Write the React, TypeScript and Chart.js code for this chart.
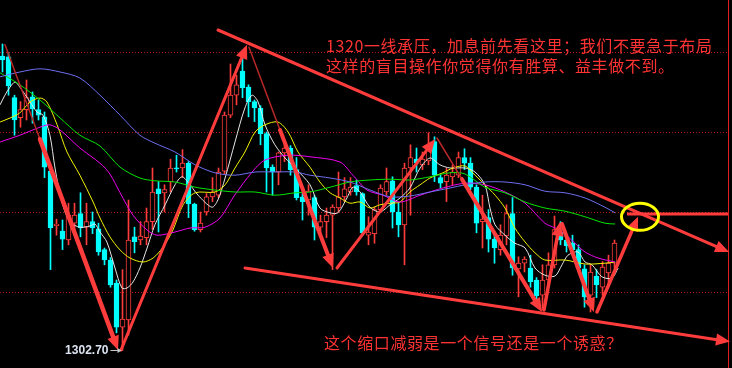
import React, { useEffect, useRef } from "react";
import { Chart, registerables } from "chart.js";
Chart.register(...registerables);

// ---- candle data (one per bar, left to right) ----
const opens = [
  1339.5, 1339.4, 1334.3, 1331.8, 1332.8, 1334.4, 1332.8, 1331.9, 1325.1, 1318.3,
  1317.6, 1316.5, 1318.6, 1319.8, 1318.1, 1318.8, 1317.9, 1315.3, 1314.0, 1311.1,
  1305.6, 1306.5, 1316.9, 1316.5, 1316.8, 1318.8, 1322.9, 1322.4, 1323.8, 1325.5,
  1325.5, 1326.1, 1321.0, 1317.8, 1320.0, 1321.9, 1322.1, 1325.1, 1332.1, 1334.6,
  1337.6, 1335.6, 1333.8, 1333.0, 1329.8, 1325.6, 1325.0, 1327.4, 1328.0, 1325.3,
  1321.9, 1321.5, 1321.8, 1318.1, 1318.8, 1319.6, 1320.5, 1321.9, 1322.5, 1323.3,
  1322.3, 1317.1, 1317.3, 1320.3, 1322.5, 1323.9, 1320.0, 1318.4, 1325.5, 1326.6,
  1325.9, 1326.4, 1328.8, 1324.3, 1323.8, 1324.4, 1324.6, 1326.8, 1326.1, 1323.1,
  1318.8, 1319.3, 1316.6, 1315.3, 1317.0, 1319.8, 1312.9, 1313.6, 1313.0, 1311.5,
  1309.6, 1311.5, 1313.4, 1317.5, 1316.5, 1316.1, 1315.3, 1312.9, 1309.6, 1312.0,
  1310.6, 1312.4, 1313.6,
];
const closes = [
  1339.0, 1335.8, 1331.5, 1332.8, 1334.3, 1332.9, 1332.1, 1325.6, 1318.0, 1318.5,
  1316.6, 1319.6, 1319.6, 1318.0, 1318.8, 1318.0, 1315.0, 1314.0, 1310.9, 1305.6,
  1306.6, 1316.5, 1316.3, 1317.0, 1318.8, 1322.5, 1322.3, 1322.8, 1325.5, 1325.4,
  1326.1, 1321.0, 1317.8, 1318.6, 1321.9, 1322.5, 1325.0, 1332.1, 1334.6, 1335.9,
  1335.5, 1333.8, 1333.0, 1329.8, 1325.5, 1325.0, 1327.4, 1328.0, 1325.3, 1321.8,
  1321.3, 1322.6, 1318.1, 1318.8, 1319.6, 1320.6, 1321.9, 1322.9, 1323.1, 1322.5,
  1317.4, 1317.5, 1320.3, 1323.0, 1323.8, 1320.0, 1318.4, 1325.5, 1326.8, 1326.1,
  1326.6, 1328.1, 1324.6, 1323.6, 1324.6, 1325.0, 1326.8, 1326.1, 1323.1, 1318.6,
  1319.1, 1316.6, 1315.5, 1317.1, 1319.8, 1313.0, 1313.6, 1314.1, 1311.3, 1309.5,
  1311.5, 1313.4, 1317.8, 1316.5, 1315.8, 1315.3, 1313.0, 1309.4, 1312.5, 1310.9,
  1313.1, 1313.6, 1316.1,
];
const highs = [
  1341.0, 1339.9, 1334.6, 1333.8, 1336.5, 1335.0, 1334.0, 1332.5, 1325.5, 1319.1,
  1319.0, 1321.1, 1321.1, 1322.4, 1321.1, 1320.0, 1318.6, 1315.5, 1314.3, 1311.5,
  1312.8, 1321.5, 1318.1, 1318.8, 1320.5, 1325.5, 1323.8, 1323.4, 1326.6, 1327.1,
  1327.8, 1326.3, 1321.1, 1320.0, 1322.3, 1324.3, 1325.5, 1332.5, 1338.5, 1337.1,
  1339.3, 1335.9, 1334.0, 1333.3, 1330.0, 1325.9, 1327.5, 1328.8, 1328.3, 1326.8,
  1322.4, 1323.4, 1322.1, 1319.6, 1320.5, 1320.9, 1325.0, 1324.3, 1324.3, 1324.0,
  1322.4, 1319.4, 1320.6, 1323.4, 1325.5, 1324.4, 1321.1, 1326.1, 1328.4, 1328.0,
  1327.5, 1329.9, 1329.4, 1324.6, 1325.5, 1325.9, 1327.5, 1327.9, 1326.8, 1323.4,
  1322.1, 1320.3, 1317.5, 1318.4, 1320.9, 1321.8, 1314.4, 1314.4, 1314.6, 1311.8,
  1313.4, 1314.9, 1319.5, 1318.8, 1317.1, 1317.1, 1315.9, 1313.4, 1313.4, 1312.8,
  1313.8, 1314.6, 1316.5,
];
const lows = [
  1337.5, 1334.6, 1329.6, 1330.6, 1331.5, 1331.1, 1331.5, 1324.3, 1312.8, 1317.1,
  1315.3, 1315.9, 1317.1, 1316.9, 1315.9, 1317.3, 1314.6, 1313.4, 1310.6, 1304.9,
  1302.7, 1304.6, 1314.9, 1315.9, 1315.9, 1317.8, 1317.5, 1320.0, 1322.5, 1325.0,
  1324.3, 1319.3, 1317.6, 1317.5, 1319.6, 1321.3, 1321.8, 1324.8, 1331.8, 1333.4,
  1334.3, 1331.9, 1331.3, 1328.4, 1322.5, 1322.1, 1323.4, 1326.3, 1324.6, 1321.5,
  1319.0, 1319.6, 1316.5, 1317.1, 1316.8, 1312.8, 1320.0, 1321.3, 1322.1, 1322.1,
  1317.1, 1315.9, 1316.1, 1320.0, 1322.1, 1318.0, 1316.9, 1313.4, 1319.6, 1325.0,
  1325.3, 1325.9, 1323.8, 1323.0, 1321.3, 1323.4, 1324.3, 1325.3, 1322.8, 1317.4,
  1315.5, 1315.0, 1313.6, 1314.6, 1315.9, 1312.1, 1309.4, 1312.5, 1310.6, 1309.0,
  1307.8, 1310.9, 1313.0, 1315.9, 1315.0, 1314.6, 1312.5, 1308.1, 1307.5, 1309.3,
  1309.6, 1310.9, 1313.0,
];

// ---- moving-average curves: [bar position, price] ----
const maWhite: [number, number][] = [
  [-0.4, 1333.4], [0.4, 1334.6], [1.25, 1335.6], [2.1, 1336.25], [2.9, 1335.6], [4.6, 1333.75],
  [5.75, 1332.5], [6.75, 1332.1], [7.9, 1329.6], [8.75, 1325.5], [9.9, 1321.25], [11.25, 1318.75],
  [12.9, 1318.1], [14.6, 1318.25], [15.4, 1318.5], [16.25, 1317.5], [17.4, 1316.25], [18.75, 1313.0],
  [19.9, 1310.5], [20.75, 1310.5], [21.75, 1311.25], [22.9, 1313.0], [24.1, 1315.5], [25.4, 1318.4],
  [27.1, 1320.9], [28.75, 1323.4], [29.9, 1324.4], [30.9, 1323.75], [32.6, 1322.1], [34.9, 1320.6],
  [35.9, 1321.5], [37.1, 1324.25], [38.75, 1328.75], [40.4, 1333.0], [41.6, 1334.6], [42.6, 1333.75],
  [43.75, 1330.9], [45.4, 1328.4], [47.1, 1326.75], [48.75, 1325.5], [51.25, 1323.4], [52.9, 1320.5],
  [54.6, 1319.9], [55.9, 1319.9], [57.4, 1321.75], [58.4, 1323.1], [59.6, 1322.5], [61.25, 1320.6],
  [62.9, 1320.0], [64.6, 1320.9], [66.25, 1321.75], [67.9, 1323.0], [69.6, 1325.5], [71.25, 1326.75],
  [72.9, 1325.9], [74.6, 1325.5], [77.1, 1325.5], [78.75, 1325.0], [80.4, 1323.4], [81.25, 1320.5],
  [82.1, 1318.4], [83.75, 1317.1], [85.4, 1316.1], [87.1, 1315.5], [88.75, 1313.0], [90.4, 1312.1],
  [92.1, 1312.0], [93.25, 1313.4], [94.25, 1314.6], [95.9, 1315.0], [97.1, 1313.75], [98.25, 1313.4],
  [99.9, 1311.9], [101.6, 1311.75], [102.6, 1313.0],
];
const maYellow: [number, number][] = [
  [-0.4, 1331.25], [1.25, 1331.75], [2.9, 1332.4], [4.6, 1333.75], [6.25, 1334.25], [7.4, 1333.75],
  [9.1, 1330.9], [10.75, 1327.5], [12.9, 1324.6], [15.1, 1321.25], [16.25, 1319.25], [17.9, 1316.9],
  [19.6, 1315.25], [21.25, 1314.25], [23.4, 1313.75], [25.1, 1314.25], [26.75, 1315.6], [28.4, 1317.75],
  [30.1, 1320.9], [32.1, 1322.4], [35.4, 1322.5], [37.1, 1323.4], [38.75, 1325.5], [40.4, 1327.5],
  [42.1, 1330.0], [43.75, 1330.9], [45.9, 1331.25], [47.6, 1330.0], [49.25, 1327.5], [51.25, 1325.6],
  [52.9, 1323.75], [54.6, 1322.4], [56.25, 1321.75], [57.9, 1321.1], [59.6, 1321.25], [61.25, 1320.5],
  [62.9, 1320.9], [64.6, 1321.1], [66.25, 1321.25], [67.9, 1322.5], [69.6, 1323.4], [71.25, 1324.25],
  [73.4, 1324.9], [75.1, 1325.5], [77.1, 1325.75], [78.75, 1324.6], [80.4, 1323.4], [82.1, 1322.1],
  [83.75, 1320.5], [85.4, 1318.0], [87.1, 1316.25], [88.75, 1314.9], [90.4, 1314.0], [93.75, 1314.0],
  [97.1, 1313.5], [100.4, 1313.6], [102.1, 1313.75],
];
const maMagenta: [number, number][] = [
  [-0.4, 1328.75], [2.9, 1329.6], [6.25, 1330.6], [7.9, 1330.9], [9.6, 1330.25], [12.9, 1328.0],
  [16.25, 1326.1], [17.9, 1324.75], [19.6, 1322.4], [21.75, 1319.6], [24.1, 1317.75], [25.75, 1317.1],
  [28.75, 1317.5], [31.25, 1318.0], [33.75, 1318.1], [36.25, 1319.25], [38.6, 1322.0], [41.6, 1325.0],
  [43.75, 1326.5], [47.6, 1327.1], [51.25, 1326.9], [56.25, 1326.25], [58.4, 1324.6], [60.75, 1322.75],
  [63.4, 1322.1], [66.25, 1321.25], [69.6, 1322.1], [73.4, 1323.0], [77.1, 1323.6], [80.4, 1323.4],
  [83.75, 1322.5], [87.1, 1321.1], [90.4, 1318.6], [92.1, 1318.0], [93.75, 1317.25], [95.4, 1316.1],
  [97.1, 1315.0], [99.25, 1314.25], [102.1, 1313.75],
];
const maGreen: [number, number][] = [
  [-0.4, 1337.4], [2.9, 1335.9], [6.25, 1334.0], [9.6, 1331.75], [12.9, 1329.6], [16.25, 1328.25],
  [19.6, 1325.6], [22.9, 1324.25], [25.4, 1323.9], [28.75, 1323.75], [32.1, 1323.1], [35.4, 1322.75],
  [38.75, 1322.5], [42.1, 1322.5], [45.4, 1322.1], [48.75, 1322.4], [51.25, 1322.5], [54.6, 1323.1],
  [57.9, 1323.75], [61.25, 1324.0], [64.6, 1324.1], [67.9, 1324.0], [71.25, 1324.4], [74.6, 1324.9],
  [77.1, 1324.75], [80.4, 1323.1], [83.75, 1322.4], [87.1, 1321.25], [90.4, 1320.5], [93.75, 1320.1],
  [97.1, 1319.4], [100.4, 1318.6], [102.1, 1318.5],
];
const maBlue: [number, number][] = [
  [-0.4, 1336.9], [2.9, 1337.5], [6.25, 1337.9], [9.6, 1337.5], [12.9, 1336.75], [16.25, 1334.6],
  [19.6, 1332.1], [22.9, 1329.6], [25.4, 1328.6], [28.75, 1327.5], [32.1, 1325.9], [35.4, 1324.9],
  [38.75, 1324.6], [42.1, 1325.0], [45.4, 1325.0], [48.75, 1325.0], [51.25, 1324.6], [54.6, 1324.25],
  [57.9, 1323.75], [61.25, 1322.75], [64.6, 1321.9], [67.9, 1322.0], [71.25, 1322.5], [74.6, 1323.0],
  [77.1, 1323.4], [80.4, 1323.75], [83.75, 1323.75], [87.1, 1323.4], [90.4, 1322.6], [93.75, 1322.4],
  [97.1, 1321.75], [100.4, 1320.6], [102.1, 1319.9],
];

// ---- price levels with dotted guide lines ----
const gridPrices = [1340, 1330, 1320, 1310];
const lowLabel = "1302.70";
const lowIndex = 20;
const lowPrice = 1302.7;

// ---- hand-drawn annotation geometry, in [bar position, price] ----
const upperTrend: [number, number, number, number] = [35.92, 1342.75, 121.1, 1315.0];
const lowerTrend: [number, number, number, number] = [40.42, 1313.0, 121.25, 1303.8];
const leadIns: [number, number, number, number][] = [
  [0.42, 1340.9, 6.25, 1329.1],
  [41.08, 1340.6, 46.25, 1330.25],
  [72.42, 1329.25, 76.58, 1324.1],
];
const zigzag: [number, number, number, number, number][] = [
  [6.25, 1329.1, 19.25, 1302.75, 4.5],
  [19.75, 1302.75, 40.75, 1340.9, 3],
  [46.25, 1330.25, 55.08, 1313.0, 4],
  [55.75, 1313.0, 72.08, 1329.1, 3],
  [76.58, 1324.1, 89.92, 1307.5, 4],
  [90.25, 1307.75, 92.92, 1318.75, 3.5],
  [93.25, 1318.5, 98.58, 1307.5, 4],
  [99.08, 1307.5, 105.92, 1319.4, 3.5],
];
const resistance: [number, number, number] = [104.08, 120.92, 1319.75];
const circleAt: [number, number] = [106.25, 1319.4];
const rightEdge = 120.92;

const textTop1 = "1320一线承压，加息前先看这里；我们不要急于布局";
const textTop2 = "这样的盲目操作你觉得你有胜算、益丰做不到。";
const textBottom = "这个缩口减弱是一个信号还是一个诱惑？";

const RED = "#ff3c3c";
const CYAN = "#00ffff";

function arrowHead(ctx: CanvasRenderingContext2D, x1: number, y1: number, x2: number, y2: number, len: number, half: number) {
  const a = Math.atan2(y2 - y1, x2 - x1);
  ctx.beginPath();
  ctx.moveTo(x2, y2);
  ctx.lineTo(x2 - len * Math.cos(a) + half * Math.sin(a), y2 - len * Math.sin(a) - half * Math.cos(a));
  ctx.lineTo(x2 - len * Math.cos(a) - half * Math.sin(a), y2 - len * Math.sin(a) + half * Math.cos(a));
  ctx.closePath();
  ctx.fill();
}

const overlay = {
  id: "overlay",
  beforeDraw(chart: any) {
    const { ctx, width, height } = chart;
    ctx.save();
    ctx.fillStyle = "#000";
    ctx.fillRect(0, 0, width, height);
    ctx.restore();
  },
  beforeDatasetsDraw(chart: any) {
    const { ctx, scales } = chart;
    const x = scales.x, y = scales.y;
    ctx.save();
    ctx.strokeStyle = "#c01818";
    ctx.lineWidth = 1;
    ctx.setLineDash([1, 2]);
    for (const p of gridPrices) {
      const yy = Math.round(y.getPixelForValue(p)) + 0.5;
      ctx.beginPath();
      ctx.moveTo(0, yy);
      ctx.lineTo(x.getPixelForValue(rightEdge), yy);
      ctx.stroke();
    }
    ctx.restore();
  },
  afterDraw(chart: any) {
    const { ctx, scales } = chart;
    const X = (v: number) => scales.x.getPixelForValue(v);
    const Y = (v: number) => scales.y.getPixelForValue(v);
    ctx.save();
    ctx.lineCap = "round";
    // right border
    ctx.strokeStyle = "#e02020";
    ctx.lineWidth = 1;
    const rx = Math.round(X(rightEdge)) + 0.5;
    ctx.beginPath();
    ctx.moveTo(rx, 0);
    ctx.lineTo(rx, chart.height);
    ctx.stroke();

    // trend lines
    ctx.strokeStyle = RED;
    ctx.fillStyle = RED;
    const trend = (t: number[], w: number) => {
      const x1 = X(t[0]), y1 = Y(t[1]), x2 = X(t[2]), y2 = Y(t[3]);
      ctx.lineWidth = w;
      ctx.beginPath();
      ctx.moveTo(x1, y1);
      ctx.lineTo(x2 - 8 * Math.cos(Math.atan2(y2 - y1, x2 - x1)), y2 - 8 * Math.sin(Math.atan2(y2 - y1, x2 - x1)));
      ctx.stroke();
      arrowHead(ctx, x1, y1, x2, y2, 14, 6);
    };
    trend(upperTrend, 3);
    trend(lowerTrend, 3);

    // thin lead-ins
    ctx.strokeStyle = "#b82828";
    ctx.lineWidth = 1.5;
    for (const l of leadIns) {
      ctx.beginPath();
      ctx.moveTo(X(l[0]), Y(l[1]));
      ctx.lineTo(X(l[2]), Y(l[3]));
      ctx.stroke();
    }
    // zigzag arrows
    ctx.strokeStyle = RED;
    for (const z of zigzag) trend(z, z[4]);

    // resistance segment
    ctx.lineWidth = 3;
    ctx.lineCap = "butt";
    ctx.beginPath();
    ctx.moveTo(X(resistance[0]), Y(resistance[2]));
    ctx.lineTo(X(resistance[1]), Y(resistance[2]));
    ctx.stroke();

    // yellow circle
    ctx.strokeStyle = "#ffff00";
    ctx.lineWidth = 3;
    ctx.beginPath();
    ctx.ellipse(X(circleAt[0]), Y(circleAt[1]), 18.5, 13.5, 0, 0, Math.PI * 2);
    ctx.stroke();

    // low label
    const lx = X(lowIndex), ly = Y(lowPrice);
    ctx.fillStyle = "#dce4f2";
    ctx.font = "bold 12px 'Liberation Sans', Arial, sans-serif";
    ctx.textAlign = "right";
    ctx.textBaseline = "middle";
    ctx.fillText(lowLabel, lx - 14, ly);
    ctx.strokeStyle = "#c8c8c8";
    ctx.fillStyle = "#c8c8c8";
    ctx.lineWidth = 1;
    ctx.beginPath();
    ctx.moveTo(lx - 12, Math.round(ly) + 0.5);
    ctx.lineTo(lx - 2, Math.round(ly) + 0.5);
    ctx.stroke();
    arrowHead(ctx, lx - 10, Math.round(ly) + 0.5, lx - 1, Math.round(ly) + 0.5, 4, 2.5);

    // notes
    ctx.fillStyle = "#ff3333";
    ctx.font = "16px 'Noto Sans CJK SC', sans-serif";
    ctx.textAlign = "left";
    ctx.textBaseline = "middle";
    try { (ctx as any).letterSpacing = "0.6px"; } catch (e) {}
    ctx.fillText(textTop1, 326, 46);
    ctx.fillText(textTop2, 326, 66);
    ctx.fillText(textBottom, 324, 343);
    ctx.restore();
  },
};

export default function App() {
  const ref = useRef<HTMLCanvasElement>(null);
  useEffect(() => {
    const idx = opens.map((_, i) => i);
    const up = (i: number) => closes[i] >= opens[i];
    const line = (pts: [number, number][], color: string) => ({
      type: "line" as const,
      data: pts.map(([i, p]) => ({ x: i, y: p })),
      borderColor: color,
      borderWidth: 1,
      pointRadius: 0,
      tension: 0.3,
      order: 0,
    });
    const chart = new Chart(ref.current as HTMLCanvasElement, {
      type: "bar",
      data: {
        datasets: [
          {
            type: "bar",
            data: idx.map((i) => ({ x: i, y: [lows[i], highs[i]] })) as any,
            backgroundColor: idx.map((i) => (up(i) ? RED : CYAN)),
            borderWidth: 0,
            barThickness: 1,
            grouped: false,
            order: 2,
          },
          {
            type: "bar",
            data: idx.map((i) => ({ x: i, y: [opens[i], closes[i]] })) as any,
            backgroundColor: idx.map((i) => (up(i) ? "#000000" : CYAN)),
            borderColor: idx.map((i) => (up(i) ? RED : CYAN)),
            borderWidth: 1,
            borderSkipped: false,
            barThickness: 5,
            minBarLength: 1,
            grouped: false,
            order: 1,
          },
          line(maBlue, "#6e6ef0"),
          line(maGreen, "#00e600"),
          line(maMagenta, "#ee00ee"),
          line(maYellow, "#f2f200"),
          line(maWhite, "#e6e6e6"),
        ] as any,
      },
      options: {
        responsive: false,
        animation: false,
        devicePixelRatio: 1,
        events: [],
        layout: { padding: 0 },
        plugins: { legend: { display: false }, tooltip: { enabled: false } },
        scales: {
          x: { type: "linear", display: false, min: -2.5 / 6, max: (732 - 2.5) / 6, offset: false, grid: { display: false } },
          y: { type: "linear", display: false, min: 1300.5, max: 1346.5 },
        },
      },
      plugins: [overlay],
    });
    return () => chart.destroy();
  }, []);
  return (
    <div style={{ position: "fixed", left: 0, top: 0, width: 732, height: 368, background: "#000" }}>
      <canvas ref={ref} width={732} height={368} style={{ display: "block" }} />
    </div>
  );
}
